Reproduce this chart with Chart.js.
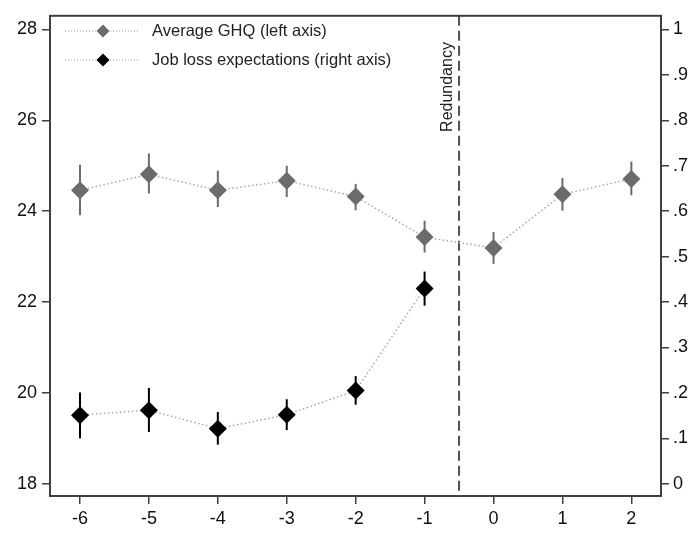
<!DOCTYPE html>
<html>
<head>
<meta charset="utf-8">
<script src="https://cdn.jsdelivr.net/npm/chart.js@4/dist/chart.umd.min.js"></script>
<style>
  html, body { margin: 0; padding: 0; background: #fff; }
  #wrap { width: 693px; height: 533px; }
</style>
</head>
<body>
<div id="wrap"><canvas id="chart" width="693" height="533"></canvas></div>
<script>
// Event time relative to redundancy
const periods = [-6, -5, -4, -3, -2, -1, 0, 1, 2];
const xTicks = [-6, -5, -4, -3, -2, -1, 0, 1, 2];

// Average GHQ (left axis) with confidence bounds
const ghqMean = [24.46, 24.81, 24.46, 24.67, 24.32, 23.43, 23.19, 24.37, 24.71];
const ghqLow  = [23.91, 24.39, 24.09, 24.31, 24.02, 23.09, 22.84, 24.01, 24.35];
const ghqHigh = [25.02, 25.27, 24.89, 25.00, 24.60, 23.79, 23.54, 24.73, 25.09];

// Job loss expectations (right axis), only observed before redundancy
const jobPeriods = [-6, -5, -4, -3, -2, -1];
const jobMean = [0.151, 0.162, 0.121, 0.152, 0.205, 0.430];
const jobLow  = [0.100, 0.114, 0.086, 0.118, 0.174, 0.392];
const jobHigh = [0.201, 0.211, 0.158, 0.186, 0.237, 0.467];

const leftTicks = [18, 20, 22, 24, 26, 28];
const rightTicks = [0, 0.1, 0.2, 0.3, 0.4, 0.5, 0.6, 0.7, 0.8, 0.9, 1];

const eventLine = -0.5;
const eventLabel = 'Redundancy';

const GREY = '#6b6b6b';
const AXIS = '#404040';
const DOTS = '#a8a8a8';
const FONT = 'Liberation Sans, Arial, sans-serif';

function diamond(ctx, x, y, r, color) {
    ctx.beginPath();
    ctx.moveTo(x, y - r);
    ctx.lineTo(x + r, y);
    ctx.lineTo(x, y + r);
    ctx.lineTo(x - r, y);
    ctx.closePath();
    ctx.fillStyle = color;
    ctx.fill();
}

const errorBarsPlugin = {
    id: 'errorBars',
    beforeDatasetsDraw(chart) {
        const { ctx, scales } = chart;
        const bars = [
            { xs: periods, lo: ghqLow, hi: ghqHigh, axis: scales.y, color: GREY },
            { xs: jobPeriods, lo: jobLow, hi: jobHigh, axis: scales.y2, color: '#000' }
        ];
        ctx.save();
        ctx.lineWidth = 2;
        bars.forEach(b => {
            ctx.strokeStyle = b.color;
            b.xs.forEach((xv, i) => {
                const px = scales.x.getPixelForValue(xv);
                ctx.beginPath();
                ctx.moveTo(px, b.axis.getPixelForValue(b.lo[i]));
                ctx.lineTo(px, b.axis.getPixelForValue(b.hi[i]));
                ctx.stroke();
            });
        });

        // dashed event line with rotated label
        const { top, bottom } = chart.chartArea;
        const lx = scales.x.getPixelForValue(eventLine);
        ctx.strokeStyle = '#505050';
        ctx.setLineDash([10, 5]);
        ctx.beginPath();
        ctx.moveTo(lx, top);
        ctx.lineTo(lx, bottom);
        ctx.stroke();
        ctx.setLineDash([]);

        ctx.translate(lx - 7, 87);
        ctx.rotate(-Math.PI / 2);
        ctx.fillStyle = '#222';
        ctx.font = '16px ' + FONT;
        ctx.textAlign = 'center';
        ctx.textBaseline = 'alphabetic';
        ctx.fillText(eventLabel, 0, 0);
        ctx.restore();
    },
    afterDraw(chart) {
        const { ctx, chartArea } = chart;
        ctx.save();
        // plot frame
        ctx.strokeStyle = AXIS;
        ctx.lineWidth = 2;
        ctx.strokeRect(chartArea.left, chartArea.top, chartArea.right - chartArea.left, chartArea.bottom - chartArea.top);

        // legend
        const rows = [
            { label: chart.data.datasets[0].label, color: GREY, y: 31 },
            { label: chart.data.datasets[1].label, color: '#000', y: 60 }
        ];
        rows.forEach(r => {
            ctx.strokeStyle = '#999';
            ctx.lineWidth = 1;
            ctx.setLineDash([1, 2]);
            ctx.beginPath();
            ctx.moveTo(65, r.y);
            ctx.lineTo(140, r.y);
            ctx.stroke();
            ctx.setLineDash([]);
            diamond(ctx, 103, r.y, 6.5, r.color);
            ctx.fillStyle = '#222';
            ctx.font = '16.5px ' + FONT;
            ctx.textAlign = 'left';
            ctx.textBaseline = 'middle';
            ctx.fillText(r.label, 152, r.y);
        });
        ctx.restore();
    }
};

new Chart(document.getElementById('chart'), {
    type: 'line',
    data: {
        datasets: [
            {
                label: 'Average GHQ (left axis)',
                data: periods.map((x, i) => ({ x, y: ghqMean[i] })),
                yAxisID: 'y',
                borderColor: DOTS,
                borderWidth: 1.5,
                borderDash: [1.5, 2.5],
                pointStyle: 'rectRot',
                pointRadius: 9,
                pointBackgroundColor: GREY,
                pointBorderColor: GREY,
                pointBorderWidth: 0
            },
            {
                label: 'Job loss expectations (right axis)',
                data: jobPeriods.map((x, i) => ({ x, y: jobMean[i] })),
                yAxisID: 'y2',
                borderColor: DOTS,
                borderWidth: 1.5,
                borderDash: [1.5, 2.5],
                pointStyle: 'rectRot',
                pointRadius: 9,
                pointBackgroundColor: '#000',
                pointBorderColor: '#000',
                pointBorderWidth: 0
            }
        ]
    },
    options: {
        responsive: false,
        animation: false,
        layout: { padding: { top: 6, left: 0, right: 0, bottom: 0 } },
        plugins: {
            legend: { display: false },
            tooltip: { enabled: false }
        },
        scales: {
            x: {
                type: 'linear',
                min: -6.435,
                max: 2.43,
                afterBuildTicks: s => { s.ticks = xTicks.map(v => ({ value: v })); },
                afterFit: s => { s.height = 37; },
                grid: { drawOnChartArea: false, tickLength: 8, color: AXIS, lineWidth: 1.5 },
                border: { display: false },
                ticks: { color: '#111', font: { family: FONT, size: 18 }, padding: 4, autoSkip: false, maxRotation: 0 }
            },
            y: {
                position: 'left',
                min: 17.73,
                max: 28.3,
                afterBuildTicks: s => { s.ticks = leftTicks.map(v => ({ value: v })); },
                afterFit: s => { s.width = 50; },
                grid: { drawOnChartArea: false, tickLength: 8, color: AXIS, lineWidth: 1.5 },
                border: { display: false },
                ticks: { color: '#111', font: { family: FONT, size: 18 }, padding: 5 }
            },
            y2: {
                position: 'right',
                min: -0.027,
                max: 1.03,
                afterBuildTicks: s => { s.ticks = rightTicks.map(v => ({ value: v })); },
                afterFit: s => { s.width = 32; },
                grid: { drawOnChartArea: false, tickLength: 8, color: AXIS, lineWidth: 1.5 },
                border: { display: false },
                ticks: {
                    color: '#111',
                    font: { family: FONT, size: 18 },
                    padding: 4,
                    callback: v => (v === 0 || v === 1) ? String(v) : v.toFixed(1).replace(/^0/, '')
                }
            }
        }
    },
    plugins: [errorBarsPlugin]
});
</script>
</body>
</html>
